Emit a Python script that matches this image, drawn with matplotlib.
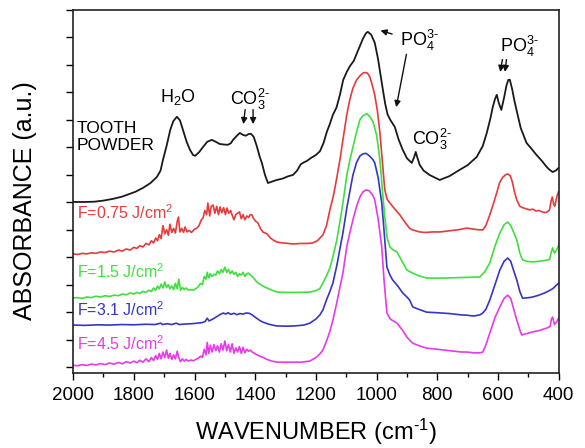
import matplotlib
matplotlib.use('Agg')
import matplotlib.pyplot as plt
from matplotlib.ticker import MultipleLocator, NullFormatter

plt.rcParams['font.family'] = ['Liberation Sans', 'DejaVu Sans']
plt.rcParams['mathtext.fontset'] = 'custom'
plt.rcParams['mathtext.rm'] = 'Liberation Sans'
plt.rcParams['mathtext.it'] = 'Liberation Sans:italic'
plt.rcParams['mathtext.bf'] = 'Liberation Sans:bold'

# tooth powder (black)
wn_tooth = [2000, 1960, 1930, 1900, 1870, 1840, 1822, 1795, 1770, 1745, 1724, 1712, 1704, 1692, 1680,
            1670, 1658, 1648, 1638, 1626, 1615, 1605, 1598, 1585, 1572, 1558, 1543, 1530, 1517, 1503,
            1490, 1480, 1473, 1462, 1451, 1440, 1431, 1422, 1414, 1405, 1395, 1385, 1378, 1368, 1358,
            1345, 1329, 1310, 1290, 1276, 1262, 1250, 1240, 1230, 1215, 1200, 1187, 1175, 1164, 1154,
            1144, 1132, 1121, 1110, 1098, 1088, 1075, 1062, 1045, 1035, 1029, 1018, 1006, 995, 983,
            972, 964, 955, 940, 928, 914, 900, 884, 876, 871, 865, 858, 845, 825, 805, 792, 760, 726,
            700, 670, 650, 637, 625, 617, 610, 604, 597, 589, 580, 572, 566, 561, 553, 546, 539, 525,
            506, 490, 473, 455, 440, 430, 420, 410, 400]
ab_tooth = [6.01, 6.01, 6.02, 6.06, 6.12, 6.20, 6.27, 6.38, 6.52, 6.70, 6.92, 7.15, 7.54, 8.05, 8.63,
            8.95, 9.11, 8.98, 8.63, 8.20, 7.91, 7.72, 7.69, 7.82, 8.01, 8.20, 8.27, 8.20, 8.12, 8.10,
            8.09, 8.15, 8.27, 8.40, 8.52, 8.45, 8.42, 8.48, 8.49, 8.38, 8.05, 7.65, 7.43, 7.00, 6.70,
            6.75, 6.81, 6.86, 6.95, 6.99, 7.15, 7.38, 7.45, 7.50, 7.62, 7.72, 7.85, 8.15, 8.56, 8.85,
            9.18, 9.45, 9.90, 10.45, 10.75, 10.95, 11.15, 11.50, 11.95, 12.15, 12.20, 12.10, 11.80, 11.20, 10.35,
            9.60, 9.20, 9.00, 8.74, 8.30, 7.91, 7.60, 7.43, 7.65, 7.83, 7.60, 7.36, 7.15, 6.99, 6.88, 6.81, 6.95, 7.18,
            7.35, 7.65, 8.05, 8.52, 9.05, 9.47, 9.75, 9.91, 9.60, 9.36, 9.80, 10.25, 10.45, 10.46, 10.10, 9.70, 9.36, 8.70,
            8.16, 7.95, 7.72, 7.50, 7.29, 7.18, 7.10, 7.15, 7.25]

# F = 0.75 J/cm2 (red)
wn_f075 = [2000, 1985, 1970, 1955, 1940, 1925, 1910, 1895, 1880, 1865, 1850, 1838, 1825, 1812, 1800,
           1790, 1780, 1770, 1760, 1750, 1742, 1735, 1728, 1722, 1716, 1710, 1704, 1698, 1692, 1686,
           1681, 1675, 1669, 1663, 1657, 1653, 1648, 1642, 1636, 1631, 1625, 1618, 1610, 1600, 1592,
           1585, 1578, 1572, 1566, 1560, 1556, 1550, 1545, 1539, 1533, 1527, 1521, 1516, 1510, 1504,
           1498, 1493, 1487, 1481, 1475, 1470, 1464, 1458, 1452, 1446, 1440, 1434, 1428, 1422, 1416,
           1411, 1405, 1398, 1391, 1383, 1375, 1361, 1350, 1340, 1328, 1310, 1290, 1276, 1250, 1230,
           1210, 1195, 1177, 1165, 1154, 1142, 1131, 1120, 1111, 1098, 1088, 1078, 1066, 1055, 1045,
           1039, 1030, 1022, 1014, 1006, 997, 989, 981, 973, 965, 956, 940, 924, 905, 891, 881, 858,
           840, 815, 790, 760, 730, 703, 680, 665, 650, 640, 627, 615, 604, 595, 585, 575, 568, 560,
           553, 545, 538, 528, 518, 506, 495, 485, 475, 465, 455, 445, 438, 430, 425, 421, 417, 413,
           409, 405, 400]
ab_f075 = [4.12, 4.10, 4.14, 4.12, 4.16, 4.14, 4.19, 4.17, 4.22, 4.19, 4.26, 4.22, 4.30, 4.26, 4.36,
           4.32, 4.42, 4.37, 4.50, 4.45, 4.60, 4.52, 4.70, 4.60, 4.82, 4.68, 5.15, 4.85, 5.00, 4.80,
           5.20, 4.90, 5.05, 4.88, 5.30, 5.46, 4.92, 5.05, 4.90, 5.10, 4.92, 4.98, 4.90, 5.02, 5.06,
           5.15, 5.35, 5.43, 5.70, 5.55, 5.97, 5.50, 5.85, 5.90, 5.60, 5.85, 5.55, 5.83, 5.62, 5.80,
           5.55, 5.79, 5.60, 5.70, 5.50, 5.36, 5.55, 5.60, 5.65, 5.40, 5.55, 5.36, 5.50, 5.45, 5.55,
           5.54, 5.40, 5.30, 5.25, 5.05, 4.92, 4.85, 4.70, 4.62, 4.55, 4.52, 4.50, 4.48, 4.50, 4.50,
           4.52, 4.60, 4.81, 5.15, 5.72, 6.25, 6.90, 7.60, 8.27, 9.20, 9.75, 10.15, 10.45, 10.60, 10.70,
           10.72, 10.70, 10.55, 10.25, 9.90, 9.30, 8.52, 7.50, 6.45, 6.10, 5.97, 5.75, 5.55, 5.25, 5.05, 4.99, 4.92,
           4.90, 4.92, 4.92, 4.96, 5.00, 5.06, 5.02, 5.00, 4.99, 5.15, 5.54, 5.95, 6.35, 6.70, 6.90, 7.00, 7.03, 6.97,
           6.75, 6.35, 6.08, 5.85, 5.80, 5.76, 5.72, 5.75, 5.68, 5.70, 5.65, 5.62, 5.65, 5.72, 6.05, 6.19, 5.95, 5.85,
           6.05, 6.25, 6.40]

# F = 1.5 J/cm2 (green)
wn_f15 = [2000, 1985, 1970, 1955, 1940, 1925, 1910, 1895, 1880, 1865, 1850, 1838, 1825, 1812, 1800,
          1790, 1780, 1770, 1760, 1750, 1742, 1735, 1728, 1722, 1716, 1710, 1704, 1698, 1692, 1686,
          1681, 1675, 1669, 1663, 1657, 1652, 1646, 1640, 1634, 1628, 1620, 1612, 1604, 1596, 1588,
          1580, 1574, 1568, 1562, 1558, 1553, 1548, 1542, 1536, 1530, 1524, 1518, 1512, 1506, 1500,
          1494, 1488, 1482, 1476, 1470, 1464, 1458, 1452, 1446, 1440, 1434, 1428, 1422, 1416, 1410,
          1402, 1395, 1385, 1375, 1361, 1345, 1328, 1310, 1290, 1276, 1250, 1220, 1200, 1187, 1177,
          1164, 1154, 1144, 1131, 1121, 1111, 1098, 1088, 1078, 1066, 1055, 1045, 1032, 1022, 1012,
          1000, 989, 981, 973, 965, 956, 945, 933, 915, 900, 881, 860, 835, 780, 720, 660, 645, 627,
          610, 594, 580, 568, 558, 548, 538, 528, 519, 505, 486, 465, 445, 430, 424, 420, 414, 407, 400]
ab_f15 = [2.52, 2.53, 2.50, 2.55, 2.53, 2.58, 2.55, 2.60, 2.57, 2.62, 2.60, 2.66, 2.63, 2.70, 2.66,
          2.72, 2.68, 2.76, 2.72, 2.80, 2.75, 2.88, 2.80, 2.95, 2.85, 3.02, 2.88, 3.10, 2.90, 3.00,
          2.85, 2.95, 2.82, 3.05, 2.85, 3.20, 2.80, 2.90, 2.82, 2.88, 2.80, 2.82, 2.80, 2.85, 2.92,
          3.05, 3.00, 3.30, 3.20, 3.45, 3.25, 3.40, 3.30, 3.38, 3.35, 3.50, 3.40, 3.55, 3.45, 3.64,
          3.45, 3.55, 3.40, 3.50, 3.38, 3.45, 3.30, 3.40, 3.35, 3.45, 3.30, 3.40, 3.42, 3.35, 3.30,
          3.20, 3.10, 3.02, 2.95, 2.88, 2.80, 2.73, 2.72, 2.72, 2.72, 2.72, 2.73, 2.78, 2.86, 3.06,
          3.35, 3.60, 4.01, 4.63, 5.28, 5.97, 6.99, 7.54, 8.01, 8.56, 9.00, 9.15, 9.22, 9.11, 8.93,
          8.45, 7.54, 6.45, 5.46, 4.70, 4.37, 4.26, 4.19, 3.83, 3.53, 3.42, 3.32, 3.24, 3.24, 3.26, 3.28, 3.45, 3.79,
          4.40, 4.88, 5.18, 5.28, 5.15, 4.90, 4.63, 4.15, 3.90, 3.85, 3.83, 3.85, 3.88, 3.92, 4.20, 4.34, 4.15, 4.26, 4.44]

# F = 3.1 J/cm2 (blue)
wn_f31 = [2000, 1960, 1920, 1880, 1840, 1800, 1760, 1730, 1712, 1705, 1690, 1675, 1660, 1650, 1630,
          1610, 1590, 1575, 1565, 1558, 1552, 1545, 1535, 1525, 1515, 1505, 1497, 1490, 1480, 1470,
          1460, 1450, 1440, 1430, 1420, 1410, 1398, 1385, 1375, 1355, 1330, 1300, 1270, 1240, 1220,
          1200, 1187, 1177, 1165, 1154, 1144, 1131, 1121, 1111, 1098, 1088, 1078, 1066, 1055, 1045,
          1035, 1025, 1012, 1006, 995, 983, 975, 966, 956, 947, 930, 914, 900, 891, 881, 860, 835,
          800, 760, 720, 703, 680, 660, 650, 640, 627, 610, 594, 580, 568, 558, 548, 538, 528, 519,
          505, 486, 465, 440, 420, 400]
ab_f31 = [1.53, 1.52, 1.54, 1.53, 1.55, 1.54, 1.56, 1.55, 1.60, 1.55, 1.58, 1.55, 1.60, 1.55, 1.57,
          1.58, 1.60, 1.62, 1.66, 1.78, 1.68, 1.72, 1.78, 1.85, 1.92, 1.97, 1.93, 1.98, 1.92, 1.96,
          1.91, 1.95, 1.93, 1.97, 1.96, 1.90, 1.80, 1.70, 1.64, 1.56, 1.50, 1.49, 1.50, 1.53, 1.60,
          1.75, 1.90, 2.08, 2.45, 2.75, 3.06, 3.70, 4.30, 4.88, 5.80, 6.40, 6.99, 7.45, 7.68, 7.76,
          7.78, 7.70, 7.55, 7.43, 6.90, 5.97, 4.90, 3.64, 3.35, 3.17, 2.95, 2.70, 2.55, 2.44, 2.19, 2.10, 2.00,
          1.98, 1.95, 1.90, 1.89, 1.86, 1.90, 1.97, 2.10, 2.44, 3.00, 3.53, 3.85, 3.97, 3.85, 3.50, 3.17, 2.75, 2.51,
          2.52, 2.55, 2.62, 2.73, 2.85, 3.06]

# F = 4.5 J/cm2 (magenta)
wn_f45 = [2000, 1985, 1970, 1955, 1940, 1925, 1910, 1895, 1880, 1865, 1850, 1838, 1825, 1812, 1800,
          1790, 1780, 1770, 1760, 1750, 1742, 1735, 1728, 1722, 1716, 1710, 1704, 1698, 1692, 1686,
          1681, 1675, 1669, 1663, 1657, 1652, 1646, 1640, 1634, 1628, 1620, 1612, 1604, 1596, 1588,
          1580, 1574, 1568, 1562, 1558, 1553, 1548, 1542, 1536, 1530, 1524, 1518, 1512, 1506, 1500,
          1494, 1488, 1482, 1476, 1470, 1464, 1458, 1452, 1446, 1440, 1434, 1428, 1422, 1416, 1410,
          1402, 1395, 1385, 1375, 1361, 1345, 1328, 1310, 1290, 1276, 1250, 1220, 1200, 1187, 1177,
          1165, 1154, 1144, 1131, 1121, 1111, 1098, 1088, 1078, 1066, 1055, 1045, 1035, 1025, 1012,
          1006, 995, 983, 975, 966, 955, 945, 933, 915, 900, 881, 860, 835, 800, 760, 720, 703, 680,
          660, 650, 640, 627, 610, 594, 580, 568, 558, 548, 538, 528, 522, 505, 486, 465, 440, 428,
          424, 420, 414, 407, 400]
ab_f45 = [0.07, 0.05, 0.09, 0.06, 0.11, 0.08, 0.13, 0.09, 0.15, 0.11, 0.17, 0.12, 0.20, 0.15, 0.22,
          0.16, 0.25, 0.18, 0.30, 0.20, 0.35, 0.24, 0.42, 0.28, 0.50, 0.30, 0.55, 0.35, 0.62, 0.32,
          0.50, 0.28, 0.45, 0.30, 0.58, 0.35, 0.20, 0.30, 0.22, 0.28, 0.22, 0.26, 0.23, 0.28, 0.32,
          0.40, 0.35, 0.65, 0.45, 0.90, 0.50, 0.80, 0.55, 0.82, 0.60, 0.78, 0.55, 0.85, 0.62, 0.95,
          0.60, 0.82, 0.55, 0.85, 0.50, 0.70, 0.55, 0.75, 0.50, 0.72, 0.52, 0.65, 0.58, 0.62, 0.55,
          0.50, 0.45, 0.40, 0.36, 0.28, 0.22, 0.18, 0.18, 0.18, 0.18, 0.18, 0.22, 0.35, 0.48, 0.62,
          0.95, 1.30, 1.71, 2.35, 2.90, 3.42, 4.40, 4.90, 5.36, 5.85, 6.19, 6.38, 6.45, 6.42, 6.25,
          6.08, 5.40, 4.37, 3.10, 1.97, 1.75, 1.68, 1.60, 1.35, 1.09, 0.87, 0.78, 0.69, 0.65, 0.60, 0.55, 0.55, 0.52,
          0.52, 0.55, 0.80, 1.24, 1.80, 2.19, 2.50, 2.62, 2.50, 2.10, 1.71, 1.35, 1.17, 1.22, 1.28, 1.33, 1.42, 1.48,
          1.75, 1.82, 1.55, 1.64, 1.79]

fluence_labels = ['F=0.75 J/cm$^2$', 'F=1.5 J/cm$^2$', 'F=3.1 J/cm$^2$', 'F=4.5 J/cm$^2$']
fluence_colors = ['#e83a3a', '#3ee03e', '#3535c8', '#e83ae8']

fig = plt.figure(figsize=(5.85, 4.48), dpi=100)
ax = fig.add_axes([0.125, 0.167, 0.83, 0.811])

ax.plot(wn_tooth, ab_tooth, color='#1a1a1a', lw=1.3)
series = [(wn_f075, ab_f075), (wn_f15, ab_f15), (wn_f31, ab_f31), (wn_f45, ab_f45)]
for (wn, ab), c in zip(series, fluence_colors):
    ax.plot(wn, ab, color=c, lw=1.2)

ax.set_xlim(2000, 400)
ax.set_ylim(-0.22, 13.0)
ax.xaxis.set_major_locator(MultipleLocator(200))
ax.xaxis.set_minor_locator(MultipleLocator(100))
ax.yaxis.set_major_locator(MultipleLocator(1))
ax.yaxis.set_major_formatter(NullFormatter())
ax.tick_params(axis='x', which='major', direction='out', length=5, width=1, labelsize=13.5, pad=5)
ax.tick_params(axis='x', which='minor', direction='out', length=3, width=1)
ax.tick_params(axis='y', which='major', direction='out', length=5, width=1)
for s in ax.spines.values():
    s.set_linewidth(1.2)
    s.set_color('#222222')

ax.set_xlabel('WAVENUMBER (cm$^{\\text{-}1}$)', fontsize=17, labelpad=9)
ax.set_ylabel('ABSORBANCE (a.u.)', fontsize=18)
ax.yaxis.set_label_coords(-0.075, 0.475)

# annotations
co3 = 'CO$_3^{2\\text{-}}$'
po4 = 'PO$_4^{3\\text{-}}$'
ax.text(1987, 8.38, 'TOOTH\nPOWDER', fontsize=12.5, ha='left', va='center', linespacing=1.15)
ax.text(1654, 9.84, 'H$_2$O', fontsize=13, ha='center', va='center')
ax.text(1417, 9.75, co3, fontsize=13, ha='center', va='center')
ax.text(858, 11.9, po4, fontsize=13, ha='center', va='center')
ax.text(818, 8.27, co3, fontsize=13, ha='center', va='center')
ax.text(528, 11.66, po4, fontsize=13, ha='center', va='center')

arr = dict(arrowstyle='-|>', color='#111111', lw=1.0, mutation_scale=9)
ax.annotate('', xy=(1440, 8.74), xytext=(1432, 9.47), arrowprops=arr)
ax.annotate('', xy=(1407, 8.74), xytext=(1407, 9.47), arrowprops=arr)
ax.annotate('', xy=(996, 12.28), xytext=(940, 12.09), arrowprops=arr)
ax.annotate('', xy=(937, 9.36), xytext=(900, 11.48), arrowprops=arr)
ax.annotate('', xy=(594, 10.64), xytext=(584, 11.29), arrowprops=arr)
ax.annotate('', xy=(578, 10.64), xytext=(571, 11.29), arrowprops=arr)

label_y = [5.61, 3.46, 2.08, 0.87]
for lab, c, y in zip(fluence_labels, fluence_colors, label_y):
    ax.text(1987, y, lab, color=c, fontsize=11.5, ha='left', va='center')

fig.savefig('out.png', dpi=100)
